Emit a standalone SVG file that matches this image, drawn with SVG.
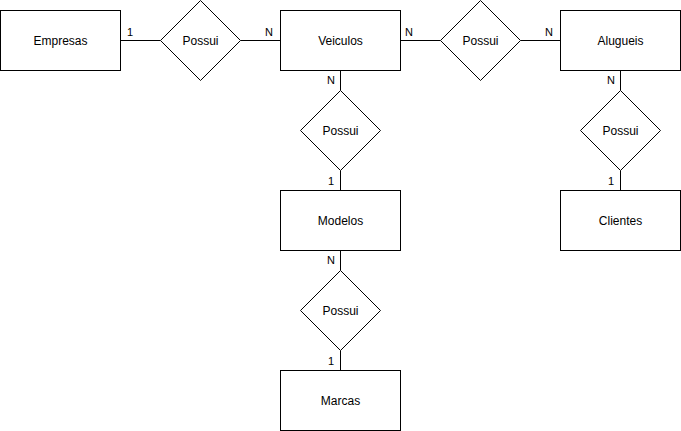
<svg xmlns="http://www.w3.org/2000/svg" width="681" height="431" viewBox="0 0 681 431">
<style>
.n{fill:#fff;stroke:#000;stroke-width:1}
.t{font-family:"Liberation Sans",Arial,sans-serif;font-size:12px;fill:#000;text-anchor:middle;dominant-baseline:central}
.l{font-family:"Liberation Sans",Arial,sans-serif;font-size:11px;fill:#000}
.e{stroke:#000;stroke-width:1;fill:none}
</style>
<rect width="681" height="431" fill="#fff"/>
<g id="connectors">
<path class="e" d="M120.5 40.5H160.5"/>
<path class="e" d="M240.5 40.5H280.5"/>
<path class="e" d="M400.5 40.5H440.5"/>
<path class="e" d="M520.5 40.5H560.5"/>
<path class="e" d="M340.5 70.5V90.5"/>
<path class="e" d="M340.5 170.5V190.5"/>
<path class="e" d="M340.5 250.5V270.5"/>
<path class="e" d="M340.5 350.5V370.5"/>
<path class="e" d="M620.5 70.5V90.5"/>
<path class="e" d="M620.5 170.5V190.5"/>
<text class="l" x="127" y="36">1</text>
<text class="l" x="265" y="36">N</text>
<text class="l" x="405" y="36">N</text>
<text class="l" x="545" y="36">N</text>
<text class="l" x="327" y="84">N</text>
<text class="l" x="328" y="185">1</text>
<text class="l" x="327" y="264">N</text>
<text class="l" x="328" y="365">1</text>
<text class="l" x="607" y="84">N</text>
<text class="l" x="608" y="185">1</text>
</g>
<g id="empresas"><rect class="n" x="0.5" y="10.5" width="120" height="60"/><text class="t" x="60.5" y="40.5">Empresas</text></g>
<g id="veiculos"><rect class="n" x="280.5" y="10.5" width="120" height="60"/><text class="t" x="340.5" y="40.5">Veiculos</text></g>
<g id="alugueis"><rect class="n" x="560.5" y="10.5" width="120" height="60"/><text class="t" x="620.5" y="40.5">Alugueis</text></g>
<g id="modelos"><rect class="n" x="280.5" y="190.5" width="120" height="60"/><text class="t" x="340.5" y="220.5">Modelos</text></g>
<g id="marcas"><rect class="n" x="280.5" y="370.5" width="120" height="60"/><text class="t" x="340.5" y="400.5">Marcas</text></g>
<g id="clientes"><rect class="n" x="560.5" y="190.5" width="120" height="60"/><text class="t" x="620.5" y="220.5">Clientes</text></g>
<g id="possui1"><path class="n" d="M200.5 0.5L240.5 40.5L200.5 80.5L160.5 40.5Z"/><text class="t" x="200.5" y="40.5">Possui</text></g>
<g id="possui2"><path class="n" d="M480.5 0.5L520.5 40.5L480.5 80.5L440.5 40.5Z"/><text class="t" x="480.5" y="40.5">Possui</text></g>
<g id="possui3"><path class="n" d="M340.5 90.5L380.5 130.5L340.5 170.5L300.5 130.5Z"/><text class="t" x="340.5" y="130.5">Possui</text></g>
<g id="possui4"><path class="n" d="M340.5 270.5L380.5 310.5L340.5 350.5L300.5 310.5Z"/><text class="t" x="340.5" y="310.5">Possui</text></g>
<g id="possui5"><path class="n" d="M620.5 90.5L660.5 130.5L620.5 170.5L580.5 130.5Z"/><text class="t" x="620.5" y="130.5">Possui</text></g>
</svg>
